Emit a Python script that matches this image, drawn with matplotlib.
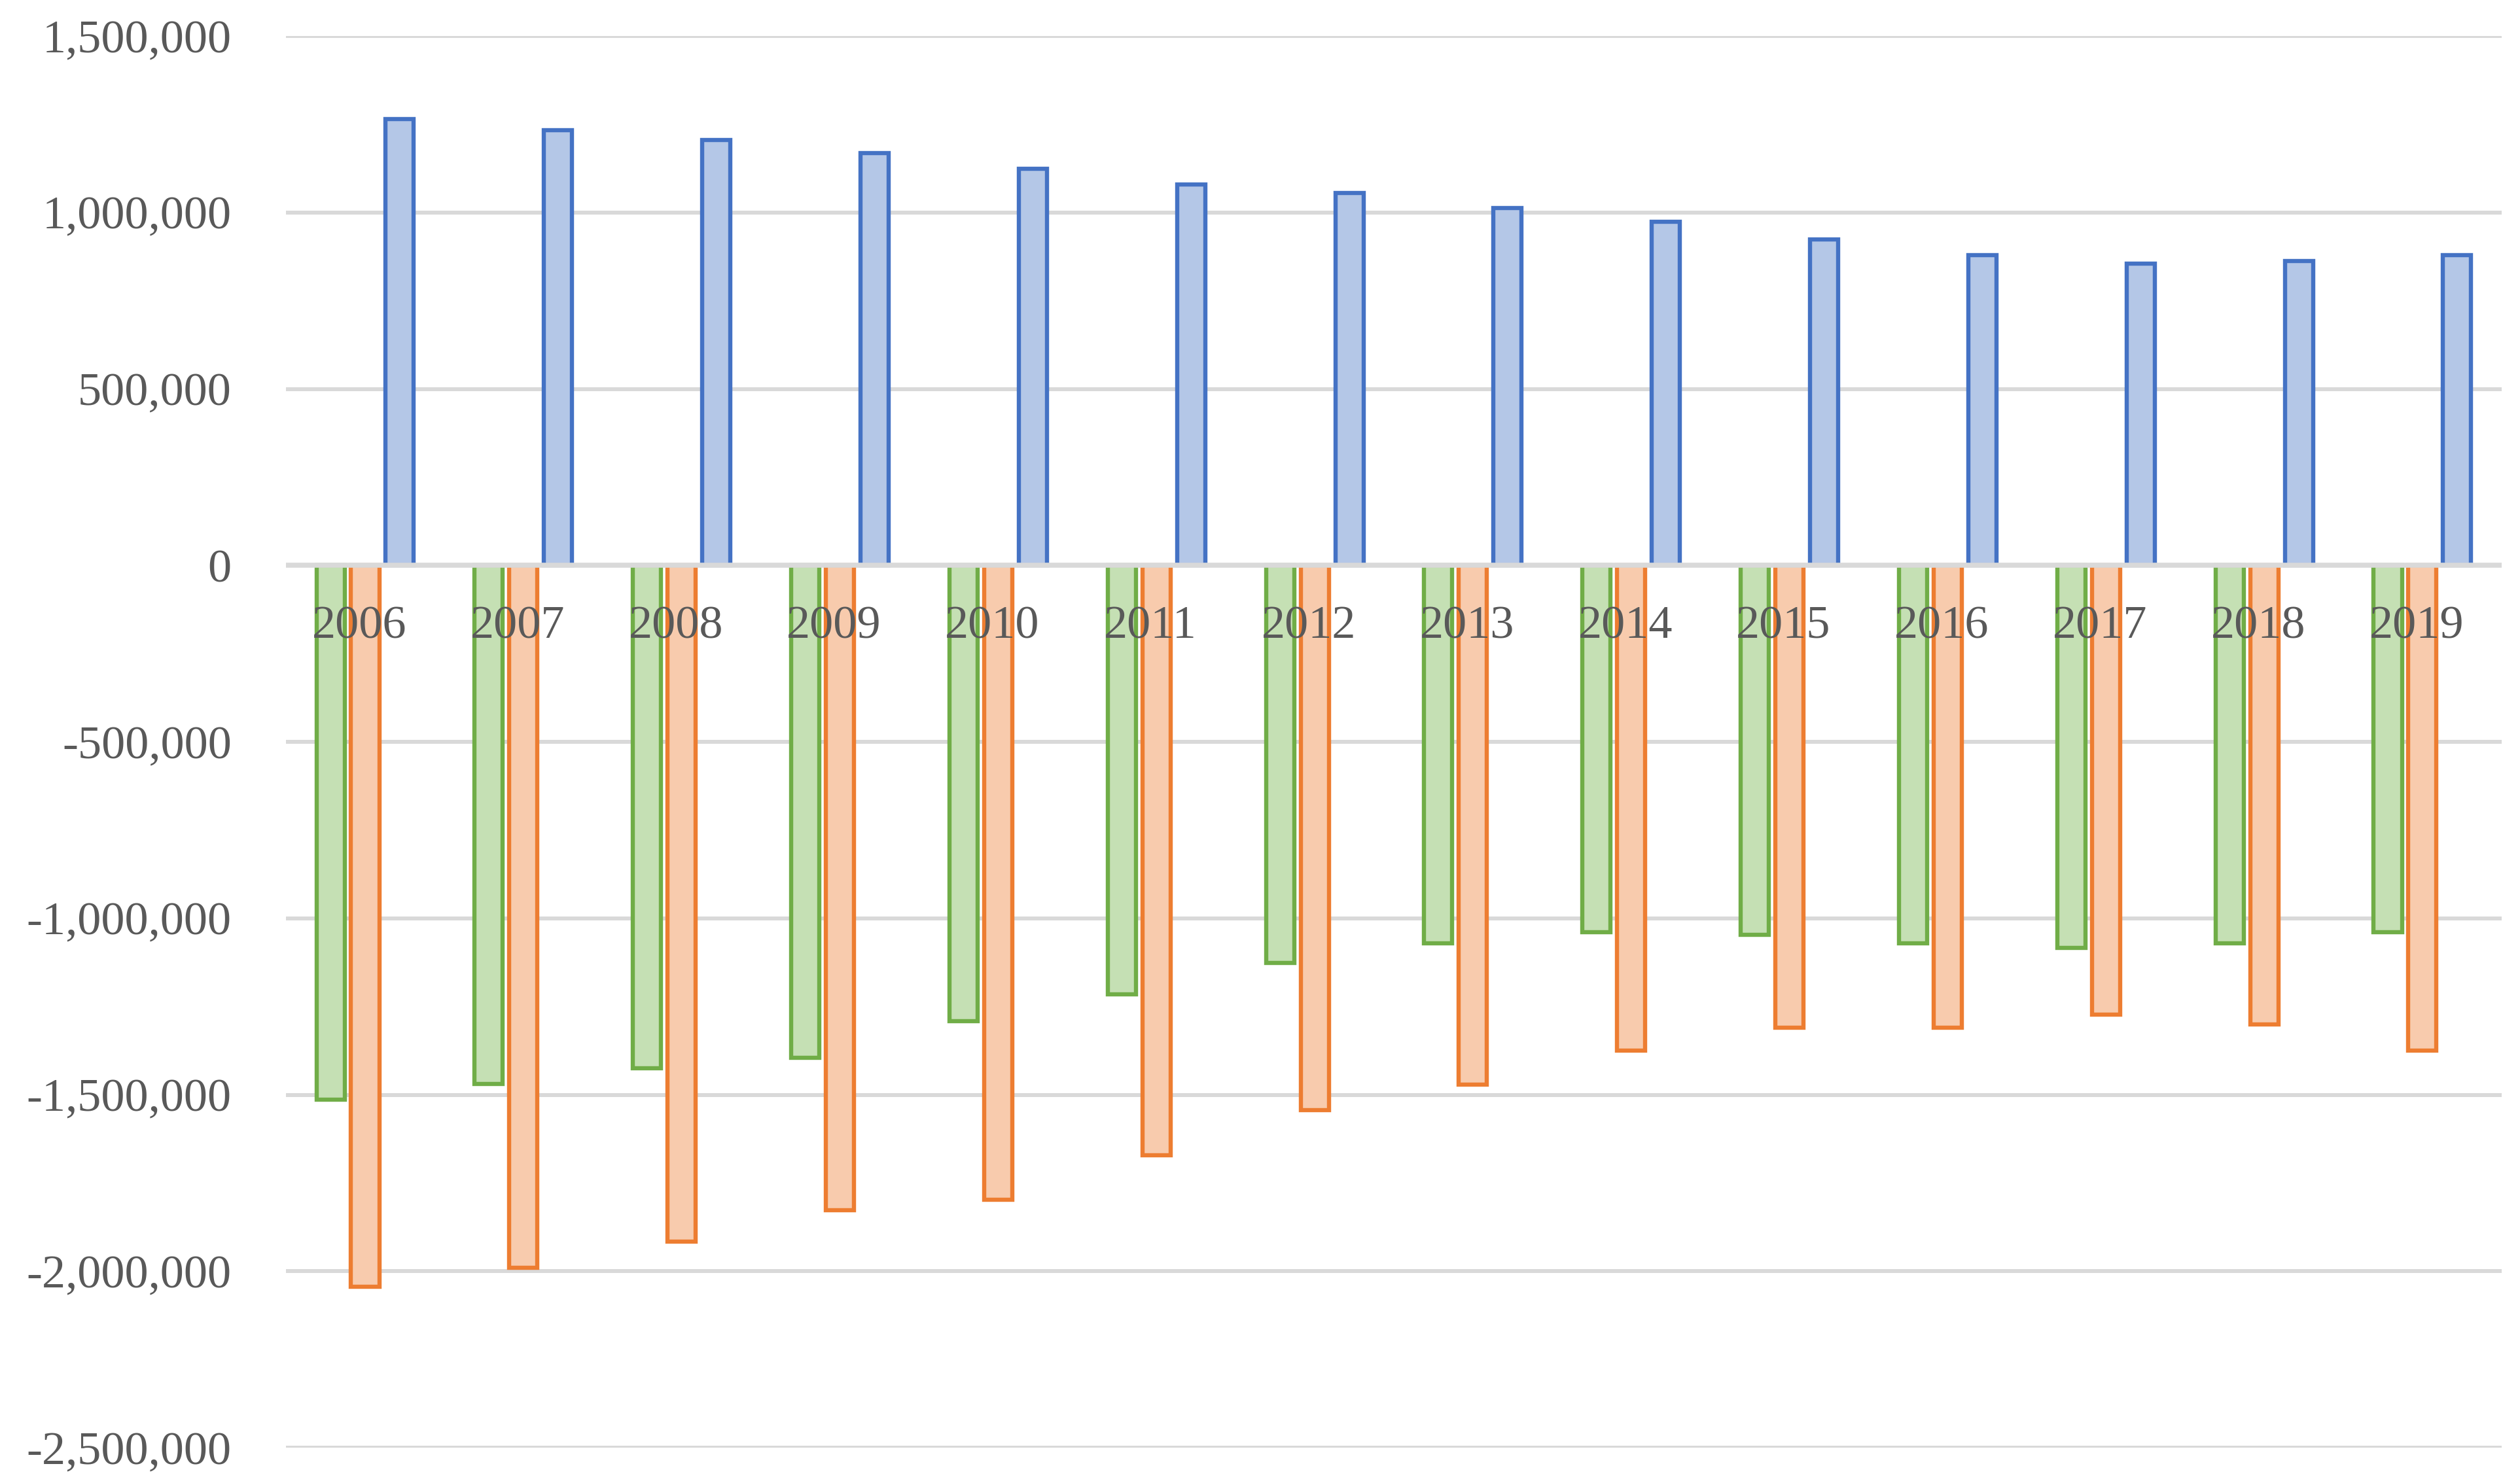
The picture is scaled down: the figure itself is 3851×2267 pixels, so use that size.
import matplotlib.pyplot as plt
import matplotlib.transforms as mtransforms
from matplotlib.ticker import FuncFormatter, MultipleLocator
import numpy as np

years = ["2006", "2007", "2008", "2009", "2010", "2011", "2012",
         "2013", "2014", "2015", "2016", "2017", "2018", "2019"]
green_vals = [-1513000, -1470000, -1425000, -1395000, -1291000, -1216000, -1127000,
              -1070000, -1039000, -1047000, -1070000, -1084000, -1070000, -1039000]
orange_vals = [-2044000, -1991000, -1916000, -1827000, -1797000, -1672000, -1544000,
               -1472000, -1375000, -1309000, -1309000, -1272000, -1301000, -1375000]
blue_vals = [1264000, 1234000, 1205000, 1168000, 1123000, 1079000, 1055000,
             1012000, 973000, 923000, 879000, 856000, 862000, 879000]

fig = plt.figure(figsize=(38.51, 22.67), dpi=100)
ax = fig.add_axes([0.1135, 0.0238, 0.8792, 0.9519])

x = np.arange(len(years))
w = 0.178
step = 0.219
lw = 4.6

ax.bar(x - step, green_vals, w, color="#C5E0B4", edgecolor="#70AD47", linewidth=lw, zorder=2)
ax.bar(x, orange_vals, w, color="#F8CBAD", edgecolor="#ED7D31", linewidth=lw, zorder=2)
ax.bar(x + step, blue_vals, w, color="#B4C7E7", edgecolor="#4472C4", linewidth=lw, zorder=2)

ax.set_xlim(-0.5, len(years) - 0.5)
ax.set_ylim(-2500000, 1500000)
ax.yaxis.set_major_locator(MultipleLocator(500000))
ax.yaxis.set_major_formatter(FuncFormatter(lambda v, p: f"{int(round(v)):,}"))

ax.grid(axis="y", color="#D9D9D9", linewidth=4.3)
ax.set_axisbelow(True)
ax.axhline(0, color="#D9D9D9", linewidth=5.5, zorder=3)

ax.set_xticks(x)
ax.set_xticklabels(years)
for s in ax.spines.values():
    s.set_visible(False)

ax.tick_params(axis="both", length=0, labelsize=52, labelcolor="#595959")
ax.tick_params(axis="y", pad=60)
ax.tick_params(axis="x", pad=44)
for lab in ax.get_xticklabels() + ax.get_yticklabels():
    lab.set_fontfamily("Liberation Serif")

# year labels sit at the zero line, on top of the bars
ax.xaxis.set_zorder(5)
zero_y = mtransforms.blended_transform_factory(ax.transData, ax.transData)
shift = mtransforms.ScaledTranslation(-9 / 100, -44 / 72, fig.dpi_scale_trans)
ax.tick_params(axis="x", labelbottom=False)
for xi, yr in zip(x, years):
    ax.text(xi, 0, yr, transform=zero_y + shift, ha="center", va="top",
            fontsize=52, color="#595959", family="Liberation Serif", zorder=5)

fig.savefig("out.png", dpi=100)
